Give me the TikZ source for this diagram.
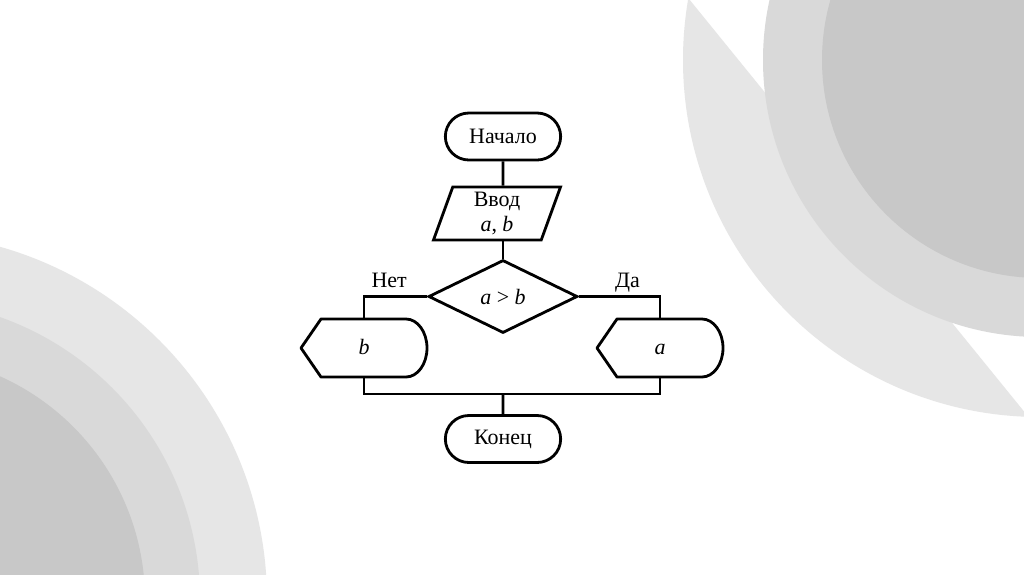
\documentclass[tikz,border=0pt]{standalone}
\usepackage{fontspec}
\setmainfont{Liberation Serif}
\usetikzlibrary{positioning, shapes.geometric, shapes.misc}

\definecolor{bglight}{HTML}{E6E6E6}
\definecolor{bgmid}{HTML}{D9D9D9}
\definecolor{bgdark}{HTML}{C8C8C8}

% outline of an output block: pointed on the left, round on the right
\newcommand{\dispoutline}[1]{%
    \draw [line width=1.6pt, line join=round] (#1.west) -- ([xshift=0.4cm]#1.north west) -- ([xshift=-0.42cm]#1.north east)
        arc [start angle=90, end angle=-90, x radius=0.42cm, y radius=0.58cm] -- ([xshift=0.4cm]#1.south west) -- cycle;}

\begin{document}
\begin{tikzpicture}[node distance=1.5cm, auto, >=latex,
    every node/.style={font=\fontsize{12.5}{14.5}\selectfont},
    term/.style={draw, rounded rectangle, line width=1.6pt, minimum width=2.54cm, minimum height=0.94cm},
    io/.style={draw, trapezium, trapezium left angle=66, trapezium right angle=114, trapezium stretches body,
        line width=1.6pt, minimum width=2.54cm, minimum height=1.06cm, align=center, inner sep=0pt},
    cond/.style={draw, diamond, line width=1.6pt, minimum width=2.98cm, minimum height=1.46cm, inner sep=0pt},
    disp/.style={rectangle, minimum width=2.52cm, minimum height=1.16cm, outer sep=0pt, text height=0.7em, text depth=0pt},
    branch/.style={above, text height=0.7em, text depth=0.25em, inner sep=2pt},
    line/.style={line width=1.6pt}]
    \useasboundingbox (0,0) rectangle (20.48,-11.48);

    % Background circles
    \begin{scope}
        \clip (0,0) rectangle (20.48,-11.48);
        \fill [white] (0,0) rectangle (20.48,-11.48);
        \fill [bglight] (-2,-12) circle (7.34);
        \fill [bgmid] (-2,-12) circle (6.0);
        \fill [bgdark] (-2,-12) circle (4.9);
        \begin{scope}
            \clip (13.39,0.5) -- (22,-10.1) -- (10,-10.1) -- (10,0.5) -- cycle;
            \fill [bglight] (20.8,-1.2) circle (7.14);
        \end{scope}
        \fill [bgmid] (20.8,-1.2) circle (5.54);
        \fill [bgdark] (20.8,-1.2) circle (4.36);
    \end{scope}

    \node [term] (start) at (10.06,-2.73) {Начало};
    \node [io, below of=start, node distance=1.54cm, xshift=-0.12cm] (input) {Ввод\\\textit{a}, \textit{b}};
    \node [cond, below of=start, node distance=3.2cm] (dec) {\textit{a} > \textit{b}};
    \node [disp, below of=dec, node distance=1.03cm, xshift=-2.78cm] (outb) {\textit{b}};
    \node [disp, below of=dec, node distance=1.03cm, xshift=3.14cm] (outa) {\textit{a}};
    \coordinate [below of=dec, node distance=1.95cm] (mrg);
    \node [term, below of=dec, node distance=2.85cm] (end) {Конец};

    \dispoutline{outb}
    \dispoutline{outa}

    \draw [line] (start) -- (start |- input.north);
    \draw [line] (dec.north |- input.south) -- (dec.north);
    \draw [line] (dec.west) -| node[pos=0.3, branch] {Нет} (outb.north);
    \draw [line] (dec.east) -| node[pos=0.3, branch] {Да} (outa.north);

    % Branches join again
    \draw [line] (outb.south) |- (mrg) -| (outa.south);
    \draw [line] (mrg) -- (end);
\end{tikzpicture}
\end{document}
